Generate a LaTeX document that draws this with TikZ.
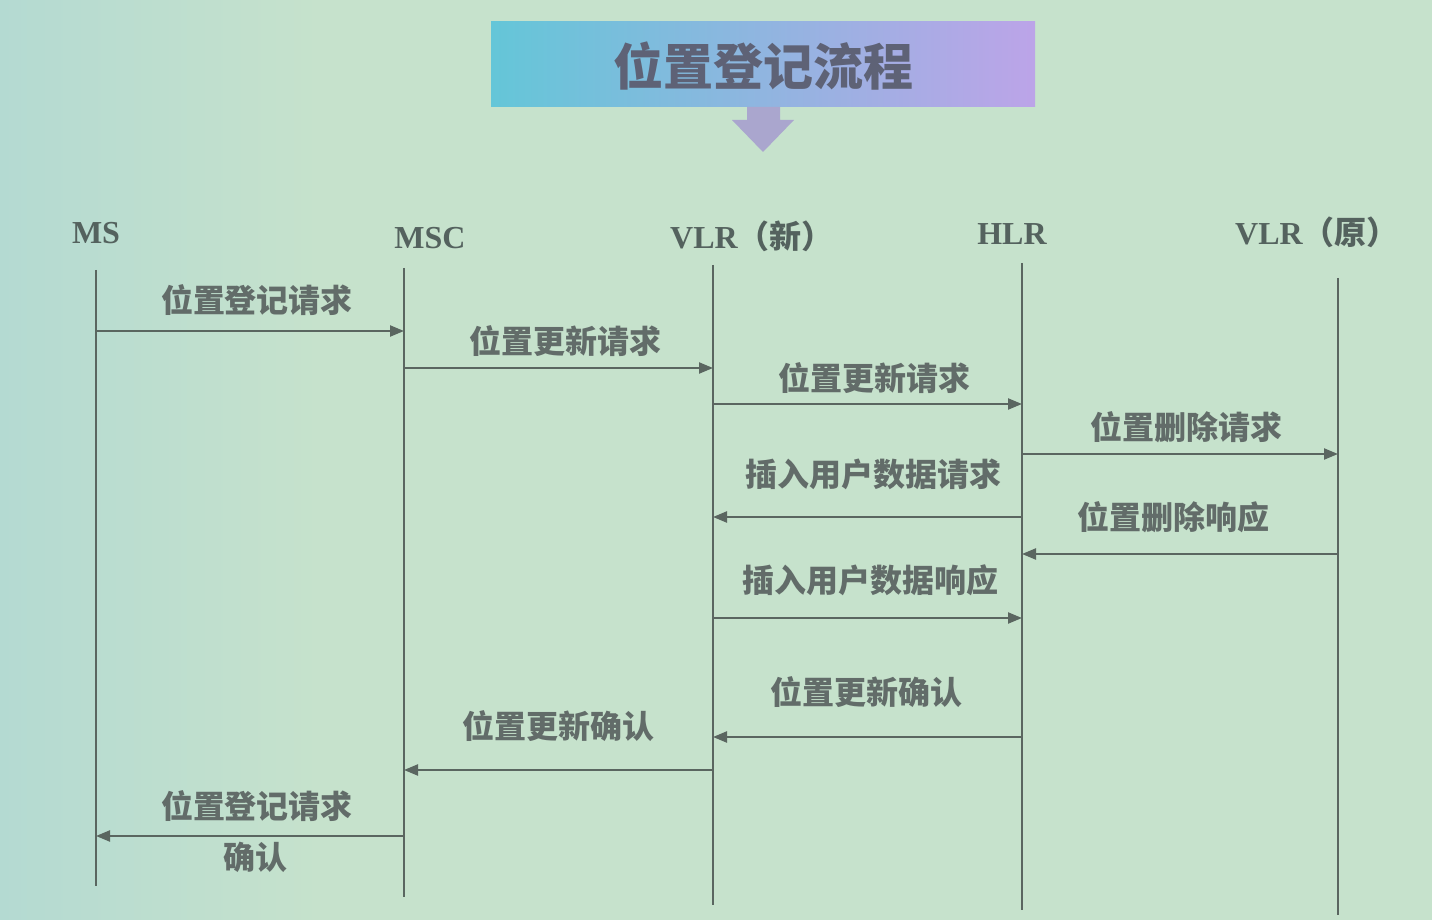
\documentclass[tikz,border=0pt]{standalone}
\usepackage{fontspec}
\setmainfont{Liberation Serif}[BoldFont={Liberation Serif Bold}]
\newfontfamily\cjk{Noto Sans CJK SC}
\usetikzlibrary{arrows.meta}
\usetikzlibrary{positioning}
\definecolor{bgmint}{RGB}{198,226,204}
\definecolor{bgteal}{RGB}{180,218,210}
\definecolor{linegray}{RGB}{90,102,96}
\definecolor{txtgray}{RGB}{98,108,105}
\definecolor{headgray}{RGB}{84,98,94}
\definecolor{titlecyan}{RGB}{100,198,216}
\definecolor{titlelilac}{RGB}{188,164,232}
\definecolor{titletext}{RGB}{94,98,118}
\definecolor{downarrow}{RGB}{170,166,206}

\begin{document}
\begin{tikzpicture}
		[x=0.5pt,y=-0.5pt,
		every node/.style={text=headgray,font=\fontsize{16}{18}\selectfont\bfseries},
		msg/.style={draw=linegray,line width=1.1pt,-{Triangle[length=7pt,width=5.5pt]}},
		life/.style={draw=linegray,line width=0.9pt},
		lbl/.style={text=txtgray,font=\cjk\bfseries\fontsize{16}{18}\selectfont}]
		\useasboundingbox (0,0) rectangle (1432,920);
		\fill[bgmint] (0,0) rectangle (1432,920);
		\shade[left color=bgteal,right color=bgmint] (0,0) rectangle (320,920);
		
		% title banner
		\shade[left color=titlecyan,right color=titlelilac] (491,22) rectangle (1035,107);
		\node[text=titletext,font=\cjk\bfseries\fontsize{25}{28}\selectfont] (title) at (763,66) {位置登记流程};
		\fill[downarrow] (747,107) -- (780,107) -- (780,120) -- (794,120) -- (763,152) -- (732,120) -- (747,120) -- cycle;
		
		% entities
		\node (ms) at (96,233) {MS};
		\node (msc) at (430,238) {MSC};
		\node (vlrn) at (752,236) {VLR{\cjk（新）}};
		\node (hlr) at (1012,234) {HLR};
		\node (vlro) at (1317,232) {VLR{\cjk（原）}};
		
		\foreach \n/\x/\ya/\yb in
		{ms/96/270/886, msc/404/268/897, vlrn/713/265/905, hlr/1022/263/910, vlro/1338/278/915}
		{
			\coordinate (\n top) at (\x,\ya);
			\coordinate (\n bot) at (\x,\yb);
			\draw[life] (\n top) -- (\n bot);
		}
		
		% messages
		\foreach \from/\to/\y/\lx/\ly/\txt [count=\i] in
		{ms/msc/331/257/300/位置登记请求, msc/vlrn/368/565/341/位置更新请求,
		 vlrn/hlr/404/874/378/位置更新请求, hlr/vlro/454/1186/427/位置删除请求,
		 hlr/vlrn/517/873/474/插入用户数据请求, vlro/hlr/554/1173/517/位置删除响应,
		 vlrn/hlr/618/870/580/插入用户数据响应, hlr/vlrn/737/866/692/位置更新确认,
		 vlrn/msc/770/558/726/位置更新确认, msc/ms/836/257/806/位置登记请求}
		{
			\draw[msg] (\from top |- 0,\y) -- (\to top |- 0,\y);
			\node[lbl] (m\i) at (\lx,\ly) {\txt};
		}
		\node[lbl] (m10b) at (255,857) {确认};
\end{tikzpicture}
\end{document}
